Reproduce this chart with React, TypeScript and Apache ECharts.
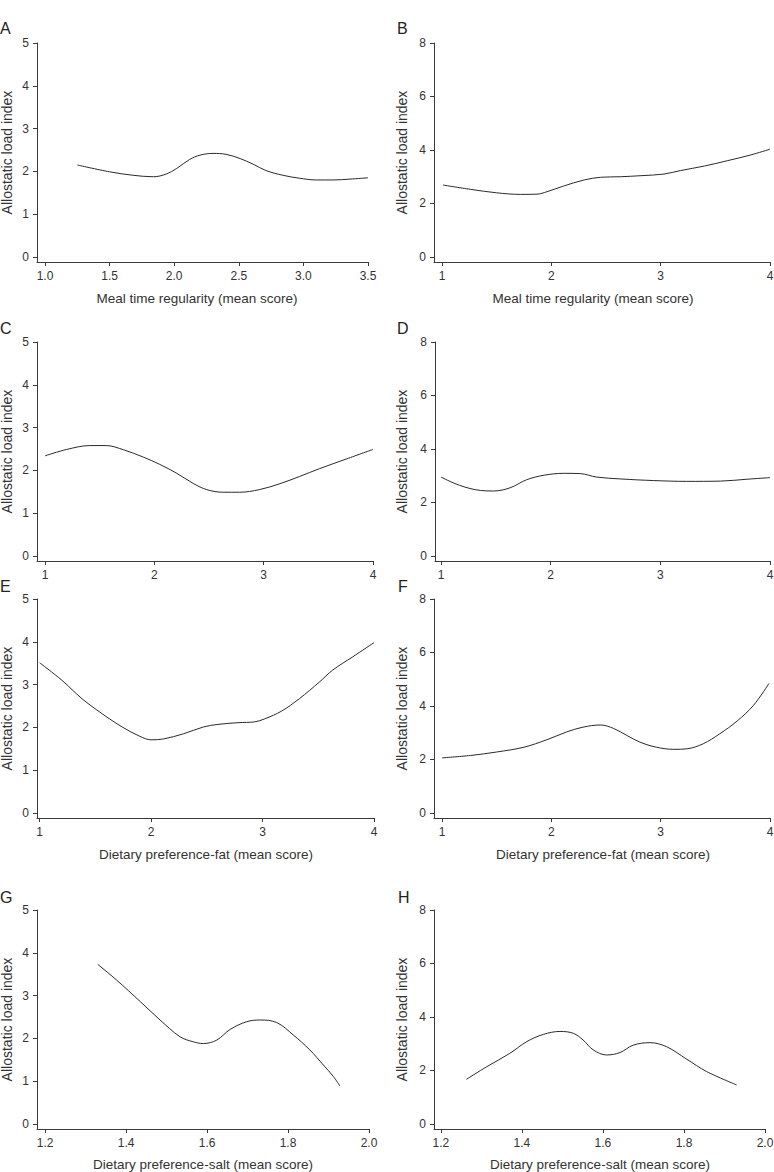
import React, { useEffect, useRef } from "react";
import * as echarts from "echarts";

const Y_TITLE = "Allostatic load index";
const X_TITLE_MEAL = "Meal time regularity (mean score)";
const X_TITLE_FAT = "Dietary preference-fat (mean score)";
const X_TITLE_SALT = "Dietary preference-salt (mean score)";

const TICKS_Y5 = [0, 1, 2, 3, 4, 5];
const TICKS_Y8 = [0, 2, 4, 6, 8];
const TICKS_X_A = [1.0, 1.5, 2.0, 2.5, 3.0, 3.5];
const TICKS_X_14 = [1, 2, 3, 4];
const TICKS_X_SALT = [1.2, 1.4, 1.6, 1.8, 2.0];

const A_X = [1.25, 1.5, 1.68, 1.84, 1.94, 2.02, 2.12, 2.2, 2.3, 2.4, 2.51, 2.61, 2.71, 2.84, 2.97, 3.1, 3.23, 3.36, 3.5];
const A_Y = [2.15, 1.99, 1.91, 1.875, 1.94, 2.07, 2.28, 2.38, 2.42, 2.4, 2.3, 2.17, 2.02, 1.91, 1.84, 1.8, 1.8, 1.82, 1.85];

const B_X = [1.01, 1.26, 1.5, 1.72, 1.87, 1.96, 2.11, 2.3, 2.45, 2.63, 2.82, 3.03, 3.18, 3.4, 3.61, 3.82, 4.0];
const B_Y = [2.69, 2.53, 2.4, 2.34, 2.35, 2.44, 2.65, 2.88, 2.98, 3.0, 3.04, 3.1, 3.23, 3.4, 3.6, 3.81, 4.03];

const C_X = [1.0, 1.2, 1.41, 1.56, 1.72, 1.9, 2.05, 2.2, 2.36, 2.48, 2.63, 2.78, 2.96, 3.15, 3.33, 3.51, 3.76, 4.0];
const C_Y = [2.34, 2.49, 2.58, 2.58, 2.48, 2.31, 2.14, 1.94, 1.69, 1.55, 1.49, 1.49, 1.55, 1.69, 1.86, 2.04, 2.27, 2.49];

const D_X = [1.0, 1.17, 1.36, 1.48, 1.63, 1.78, 1.94, 2.12, 2.27, 2.42, 2.64, 2.94, 3.24, 3.55, 3.79, 4.0];
const D_Y = [2.95, 2.64, 2.45, 2.43, 2.55, 2.85, 3.02, 3.09, 3.08, 2.95, 2.88, 2.82, 2.79, 2.8, 2.87, 2.93];

const E_X = [1.0, 1.2, 1.38, 1.56, 1.74, 1.9, 2.0, 2.11, 2.29, 2.47, 2.6, 2.78, 2.93, 3.02, 3.17, 3.33, 3.51, 3.63, 3.81, 4.0];
const E_Y = [3.51, 3.1, 2.67, 2.32, 2.01, 1.79, 1.71, 1.73, 1.85, 2.01, 2.07, 2.11, 2.13, 2.2, 2.38, 2.67, 3.06, 3.34, 3.65, 3.98];

const F_X = [1.0, 1.26, 1.5, 1.75, 1.96, 2.14, 2.29, 2.45, 2.57, 2.69, 2.81, 2.96, 3.12, 3.24, 3.39, 3.54, 3.7, 3.85, 3.99];
const F_Y = [2.06, 2.15, 2.28, 2.46, 2.74, 3.03, 3.21, 3.29, 3.16, 2.9, 2.65, 2.46, 2.38, 2.4, 2.59, 2.96, 3.44, 4.03, 4.84];

const G_X = [1.33, 1.377, 1.435, 1.484, 1.533, 1.566, 1.591, 1.624, 1.657, 1.698, 1.731, 1.772, 1.813, 1.854, 1.887, 1.912, 1.928];
const G_Y = [3.73, 3.36, 2.86, 2.43, 2.04, 1.92, 1.88, 1.96, 2.21, 2.39, 2.43, 2.37, 2.08, 1.73, 1.38, 1.11, 0.89];

const H_X = [1.263, 1.313, 1.37, 1.412, 1.453, 1.494, 1.527, 1.551, 1.576, 1.609, 1.642, 1.675, 1.716, 1.757, 1.807, 1.856, 1.93];
const H_Y = [1.67, 2.14, 2.64, 3.08, 3.35, 3.46, 3.39, 3.14, 2.77, 2.58, 2.67, 2.95, 3.04, 2.89, 2.42, 1.96, 1.46];

type PanelCfg = {
  letter: string;
  left: number; top: number; width: number; height: number;
  gl: number; gt: number; gw: number; gh: number;
  xMin: number; xMax: number; yMin: number; yMax: number;
  xTicks: number[]; yTicks: number[]; dec: number;
  xs: number[]; ys: number[];
  xTitle: string | null; xtX: number; xtY: number;
  ytX: number; lX: number; lY: number;
};

const PANELS: PanelCfg[] = [
  { letter: "A", left: 0, top: 0, width: 387, height: 310, gl: 37, gt: 43, gw: 331, gh: 219,
    xMin: 0.938, xMax: 3.5, yMin: -0.117, yMax: 5, xTicks: TICKS_X_A, yTicks: TICKS_Y5, dec: 1,
    xs: A_X, ys: A_Y, xTitle: X_TITLE_MEAL, xtX: 197, xtY: 298, ytX: 7, lX: 0, lY: 28 },
  { letter: "B", left: 387, top: 0, width: 387, height: 310, gl: 47, gt: 43, gw: 336, gh: 219,
    xMin: 0.927, xMax: 4, yMin: -0.187, yMax: 8, xTicks: TICKS_X_14, yTicks: TICKS_Y8, dec: 0,
    xs: B_X, ys: B_Y, xTitle: X_TITLE_MEAL, xtX: 206, xtY: 298, ytX: 15, lX: 10, lY: 28 },
  { letter: "C", left: 0, top: 305, width: 387, height: 285, gl: 37, gt: 37, gw: 336, gh: 219,
    xMin: 0.927, xMax: 4, yMin: -0.117, yMax: 5, xTicks: TICKS_X_14, yTicks: TICKS_Y5, dec: 0,
    xs: C_X, ys: C_Y, xTitle: null, xtX: 0, xtY: 0, ytX: 7, lX: 0, lY: 23 },
  { letter: "D", left: 387, top: 305, width: 387, height: 285, gl: 48, gt: 37, gw: 335, gh: 219,
    xMin: 0.945, xMax: 4, yMin: -0.187, yMax: 8, xTicks: TICKS_X_14, yTicks: TICKS_Y8, dec: 0,
    xs: D_X, ys: D_Y, xTitle: null, xtX: 0, xtY: 0, ytX: 15, lX: 10, lY: 23 },
  { letter: "E", left: 0, top: 578, width: 387, height: 292, gl: 37, gt: 21, gw: 337, gh: 219,
    xMin: 0.976, xMax: 4, yMin: -0.117, yMax: 5, xTicks: TICKS_X_14, yTicks: TICKS_Y5, dec: 0,
    xs: E_X, ys: E_Y, xTitle: X_TITLE_FAT, xtX: 206, xtY: 276, ytX: 7, lX: 0, lY: 8 },
  { letter: "F", left: 387, top: 578, width: 387, height: 292, gl: 47, gt: 21, gw: 336, gh: 219,
    xMin: 0.927, xMax: 4, yMin: -0.187, yMax: 8, xTicks: TICKS_X_14, yTicks: TICKS_Y8, dec: 0,
    xs: F_X, ys: F_Y, xTitle: X_TITLE_FAT, xtX: 216, xtY: 276, ytX: 15, lX: 11, lY: 8 },
  { letter: "G", left: 0, top: 870, width: 387, height: 302, gl: 37, gt: 40, gw: 332, gh: 219,
    xMin: 1.18, xMax: 2.0, yMin: -0.117, yMax: 5, xTicks: TICKS_X_SALT, yTicks: TICKS_Y5, dec: 1,
    xs: G_X, ys: G_Y, xTitle: X_TITLE_SALT, xtX: 203, xtY: 294, ytX: 7, lX: 0, lY: 27 },
  { letter: "H", left: 387, top: 870, width: 387, height: 302, gl: 47, gt: 40, gw: 331, gh: 219,
    xMin: 1.183, xMax: 2.0, yMin: -0.187, yMax: 8, xTicks: TICKS_X_SALT, yTicks: TICKS_Y8, dec: 1,
    xs: H_X, ys: H_Y, xTitle: X_TITLE_SALT, xtX: 213, xtY: 294, ytX: 15, lX: 11, lY: 27 },
];

const FONT = "'Liberation Sans', Arial, sans-serif";
const AXIS_COLOR = "#3a3a3a";
const TEXT_COLOR = "#333";

function Panel({ cfg }: { cfg: PanelCfg }) {
  const ref = useRef<HTMLDivElement>(null);
  useEffect(() => {
    if (!ref.current) return;
    const chart = echarts.init(ref.current, undefined, { renderer: "svg" });
    const data = cfg.xs.map((x, i) => [x, cfg.ys[i]]);
    const graphics: any[] = [
      {
        type: "text", x: cfg.lX, y: cfg.lY,
        style: { text: cfg.letter, font: `16px ${FONT}`, fill: "#222", textAlign: "left", textVerticalAlign: "middle" },
      },
      {
        type: "text", x: cfg.ytX, y: cfg.gt + cfg.gh / 2, rotation: Math.PI / 2,
        style: { text: Y_TITLE, font: `14px ${FONT}`, fill: TEXT_COLOR, textAlign: "center", textVerticalAlign: "middle" },
      },
    ];
    if (cfg.xTitle) {
      graphics.push({
        type: "text", x: cfg.xtX, y: cfg.xtY,
        style: { text: cfg.xTitle, font: `13.5px ${FONT}`, fill: TEXT_COLOR, textAlign: "center", textVerticalAlign: "middle" },
      });
    }
    chart.setOption({
      animation: false,
      grid: { left: cfg.gl, top: cfg.gt, width: cfg.gw, height: cfg.gh, containLabel: false, outerBoundsMode: "none" },
      xAxis: {
        type: "value", min: cfg.xMin, max: cfg.xMax,
        axisLine: { show: true, onZero: false, lineStyle: { color: AXIS_COLOR, width: 1 } },
        axisTick: { show: true, length: 4, customValues: cfg.xTicks, lineStyle: { color: AXIS_COLOR } },
        axisLabel: {
          customValues: cfg.xTicks, margin: 8, color: TEXT_COLOR, fontSize: 12, fontFamily: FONT,
          formatter: (v: number) => v.toFixed(cfg.dec),
        },
        splitLine: { show: false },
      },
      yAxis: {
        type: "value", min: cfg.yMin, max: cfg.yMax,
        axisLine: { show: true, onZero: false, lineStyle: { color: AXIS_COLOR, width: 1 } },
        axisTick: { show: true, length: 4, customValues: cfg.yTicks, lineStyle: { color: AXIS_COLOR } },
        axisLabel: {
          customValues: cfg.yTicks, margin: 8, color: TEXT_COLOR, fontSize: 12, fontFamily: FONT,
          formatter: (v: number) => String(v),
        },
        splitLine: { show: false },
      },
      graphic: graphics,
      series: [
        {
          type: "line", data, smooth: 0.35, symbol: "none",
          lineStyle: { color: "#2a2a2a", width: 1 },
        },
      ],
    });
    return () => chart.dispose();
  }, [cfg]);
  return (
    <div style={{ position: "absolute", left: cfg.left, top: cfg.top, width: cfg.width, height: cfg.height }}>
      <div ref={ref} style={{ width: cfg.width, height: cfg.height }} />
    </div>
  );
}

export default function App() {
  return (
    <div style={{ position: "absolute", left: 0, top: 0, width: 774, height: 1172, background: "#fff" }}>
      {PANELS.map((p) => (
        <Panel key={p.letter} cfg={p} />
      ))}
    </div>
  );
}
